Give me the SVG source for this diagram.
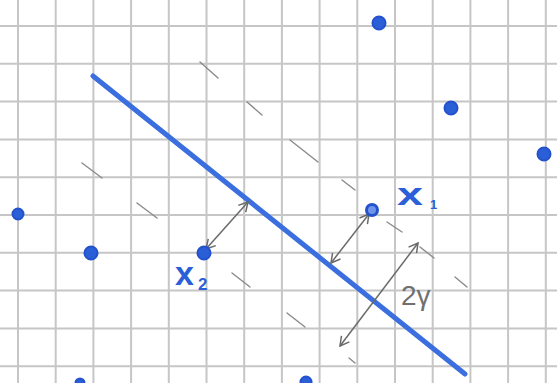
<svg xmlns="http://www.w3.org/2000/svg" width="557" height="383" viewBox="0 0 557 383">
<style>
.grid line{stroke:#c6c6c6;stroke-width:2}
.dot{fill:#2b5fd8;stroke:#2452cc;stroke-width:2}
.dash{stroke:#8a8a8a;stroke-width:1.4;stroke-linecap:round}
.arr{stroke:#6a6a6a;stroke-width:1.5;fill:none;marker-start:url(#ah);marker-end:url(#ah)}
.lbl{font-family:"Liberation Sans",Arial,sans-serif;fill:#2b5fd8;font-weight:bold}
.gl{font-family:"Liberation Sans",Arial,sans-serif;fill:#707070}
</style>
<defs>
<marker id="ah" viewBox="0 0 12 12" refX="11" refY="6" markerWidth="12" markerHeight="12" markerUnits="userSpaceOnUse" orient="auto-start-reverse">
<polyline points="2,1 11,6 2,11" fill="none" stroke="#6a6a6a" stroke-width="1.5"/>
</marker>
</defs>
<rect width="557" height="383" fill="#ffffff"/>
<g class="grid">
<line x1="18" y1="0" x2="18" y2="383"/>
<line x1="55.7" y1="0" x2="55.7" y2="383"/>
<line x1="93.4" y1="0" x2="93.4" y2="383"/>
<line x1="131.1" y1="0" x2="131.1" y2="383"/>
<line x1="168.8" y1="0" x2="168.8" y2="383"/>
<line x1="206.5" y1="0" x2="206.5" y2="383"/>
<line x1="244.2" y1="0" x2="244.2" y2="383"/>
<line x1="281.9" y1="0" x2="281.9" y2="383"/>
<line x1="319.6" y1="0" x2="319.6" y2="383"/>
<line x1="357.3" y1="0" x2="357.3" y2="383"/>
<line x1="395" y1="0" x2="395" y2="383"/>
<line x1="432.7" y1="0" x2="432.7" y2="383"/>
<line x1="470.4" y1="0" x2="470.4" y2="383"/>
<line x1="508.1" y1="0" x2="508.1" y2="383"/>
<line x1="545.8" y1="0" x2="545.8" y2="383"/>
<line x1="0" y1="26" x2="557" y2="26"/>
<line x1="0" y1="63.8" x2="557" y2="63.8"/>
<line x1="0" y1="101.6" x2="557" y2="101.6"/>
<line x1="0" y1="139.4" x2="557" y2="139.4"/>
<line x1="0" y1="177.2" x2="557" y2="177.2"/>
<line x1="0" y1="215" x2="557" y2="215"/>
<line x1="0" y1="252.8" x2="557" y2="252.8"/>
<line x1="0" y1="290.6" x2="557" y2="290.6"/>
<line x1="0" y1="328.4" x2="557" y2="328.4"/>
<line x1="0" y1="366.2" x2="557" y2="366.2"/>
</g>
<g id="margins">
<line class="dash" x1="200" y1="62" x2="218" y2="78"/>
<line class="dash" x1="247" y1="102" x2="262" y2="115"/>
<line class="dash" x1="290" y1="140" x2="318" y2="162"/>
<line class="dash" x1="342" y1="180" x2="355" y2="190"/>
<line class="dash" x1="387" y1="222" x2="402" y2="232"/>
<line class="dash" x1="420" y1="247" x2="434" y2="258"/>
<line class="dash" x1="455" y1="277" x2="467" y2="287"/>
<line class="dash" x1="82" y1="163" x2="102" y2="178"/>
<line class="dash" x1="137" y1="203" x2="157" y2="218"/>
<line class="dash" x1="232" y1="273" x2="250" y2="287"/>
<line class="dash" x1="287" y1="313" x2="305" y2="327"/>
<line class="dash" x1="349" y1="358" x2="355" y2="363"/>
</g>
<g id="hyperplane">
<line x1="93" y1="76" x2="465" y2="374" stroke="#3b6ede" stroke-width="5" stroke-linecap="round"/>
</g>
<g id="connectors">
<line class="arr" x1="206" y1="249" x2="248" y2="202"/>
<line class="arr" x1="369" y1="214" x2="331" y2="263"/>
<line class="arr" x1="340" y1="346" x2="418" y2="243"/>
</g>
<g id="p1"><circle class="dot" cx="379" cy="23" r="6.5"/></g>
<g id="p2"><circle class="dot" cx="451" cy="108" r="6.5"/></g>
<g id="p3"><circle class="dot" cx="544" cy="154" r="6.5"/></g>
<g id="p4"><circle class="dot" cx="18" cy="214" r="5.5"/></g>
<g id="p5"><circle class="dot" cx="91" cy="253" r="6.5"/></g>
<g id="x2"><circle class="dot" cx="204" cy="253" r="6.5"/>
<text class="lbl" x="175" y="285" font-size="34">x</text><text class="lbl" x="198" y="290" font-size="17">2</text></g>
<g id="x1"><circle cx="372" cy="210" r="5.5" fill="#6f95ea" stroke="#2452cc" stroke-width="3"/>
<text class="lbl" x="397" y="205" font-size="32" textLength="26" lengthAdjust="spacingAndGlyphs">x</text><text class="lbl" x="430" y="209" font-size="13">1</text></g>
<g id="p6"><circle class="dot" cx="80" cy="383" r="4.5"/></g>
<g id="p7"><circle class="dot" cx="306" cy="382" r="5.5"/></g>
<g id="margin-label"><text class="gl" x="401" y="305" font-size="28">2γ</text></g>
</svg>
